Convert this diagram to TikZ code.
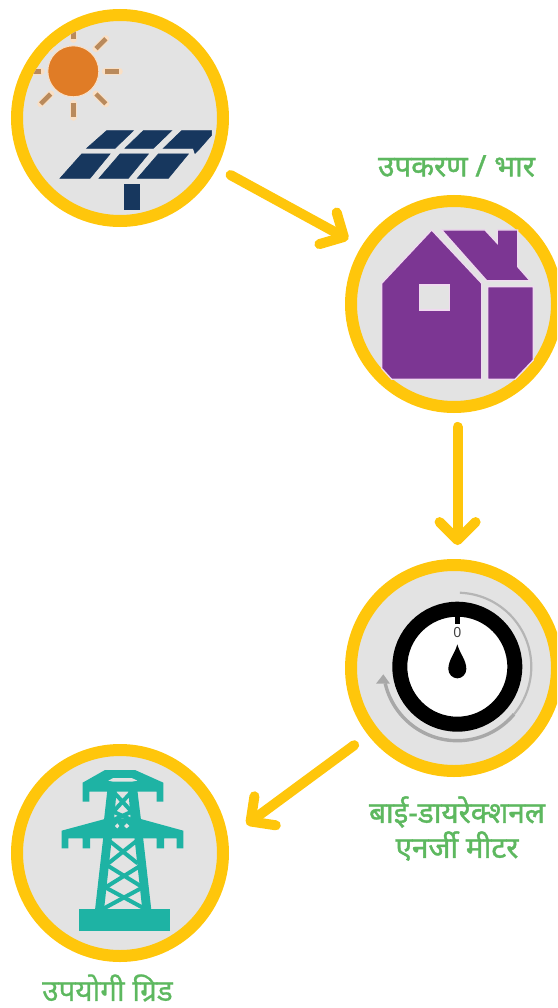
\documentclass[tikz,border=0pt]{standalone}
\usepackage{fontspec}
\newfontfamily\hindi[Script=Devanagari,FakeBold=1.3]{Noto Sans}
\newfontfamily\hindilight[Script=Devanagari,FakeBold=0.6]{Noto Sans}
\newfontfamily\zerofont{Noto Sans}
\usetikzlibrary{arrows.meta}
\definecolor{ringc}{HTML}{FFC60B}
\definecolor{discc}{HTML}{E3E3E3}
\definecolor{labelc}{HTML}{5DB85F}
\definecolor{sunc}{HTML}{E07C26}
\definecolor{rayc}{HTML}{B98A5C}
\definecolor{halo}{HTML}{FADFC4}
\definecolor{panelc}{HTML}{17375E}
\definecolor{housec}{HTML}{7C3693}
\definecolor{houseln}{HTML}{F0D9F0}
\definecolor{towerc}{HTML}{1EB3A4}
\definecolor{arcc}{HTML}{A8A8A8}
\tikzset{
  disc/.style={circle,draw=ringc,fill=discc,line width=12pt,minimum size=206pt,inner sep=0pt,outer sep=0pt},
  flow/.style={draw=ringc,line width=10pt,line cap=round,-{Straight Barb[round,length=18pt,width=36pt]}},
  lbl/.style={text=labelc,font=\hindi\fontsize{29.7}{35}\selectfont,align=center,inner sep=0pt},
  zoomed/.style={x=0.33333pt,y=-0.33333pt},
  lattice/.style={draw=towerc,line width=4pt},
  panel/.style={fill=panelc,draw=panelc,line width=0.6pt},
  hshape/.style={fill=housec,draw=houseln,line width=1.3pt,line join=miter}
}
\begin{document}
\begin{tikzpicture}[x=1pt,y=-1pt]
\useasboundingbox (0,0) rectangle (557,1008);
\clip (0,0) rectangle (557,1008);
% discs
\node[disc] (solar) at (120,118) {};
\node[disc] (house) at (454,304) {};
\node[disc] (meter) at (454,668) {};
\node[disc] (grid)  at (120,853) {};
% connectors
\draw[flow,shorten <=21.4pt,shorten >=21pt] (solar.-27.7) -- (house.148.1);
\draw[flow,shorten <=20pt,shorten >=20pt] (house.-88.3) -- (meter.88.3);
\draw[flow,shorten <=23.2pt,shorten >=30pt] (meter.218) -- (grid.6.9);
% labels
\node[lbl] (lblhouse) at (456.5,166) {उपकरण / भार};
\node[lbl] (lblmeter) at (457,828.5) {बाई-डायरेक्शनल\\एनर्जी मीटर};
\node[lbl,font=\hindilight\fontsize{29.7}{35}\selectfont] (lblgrid) at (107.5,988) {उपयोगी ग्रिड};
% sun
\begin{scope}
\clip (120,118) circle[radius=97pt];
\foreach \a in {0,45,...,315}{
  \draw[halo,line width=7pt,line cap=round] ({73.3+32*cos(\a)},{71.3+32*sin(\a)}) -- ({73.3+46*cos(\a)},{71.3+46*sin(\a)});
  \draw[rayc,line width=4.5pt] ({73.3+32*cos(\a)},{71.3+32*sin(\a)}) -- ({73.3+46*cos(\a)},{71.3+46*sin(\a)});
}
\fill[sunc,draw=halo,line width=1pt] (73.3,71.3) circle[radius=25.5pt];
\end{scope}
% solar panel
\begin{scope}[zoomed]
\path[panel] (260,445)--(320,392)--(400,392)--(345,445)--cycle;
\path[panel] (375,445)--(430,392)--(515,392)--(460,445)--cycle;
\path[panel] (490,445)--(545,392)--(635,392)--(635,405)--(600,445)--(585,460)--(580,445)--cycle;
\path[panel] (180,535)--(245,462)--(330,462)--(270,535)--cycle;
\path[panel] (297,535)--(360,462)--(445,462)--(385,535)--cycle;
\path[panel] (412,535)--(475,462)--(565,462)--(505,535)--cycle;
\path[panel] (373,552) rectangle (418,628);
\end{scope}
% house
\begin{scope}[shift={(340,150)},zoomed]
\path[hshape] (125,400)--(275,240)--(425,400)--(425,688)--(155,688)--(125,655)--cycle;
\path[hshape] (305,240)--(435,240)--(472,280)--(472,240)--(533,240)--(533,350)--(570,392)--(440,392)--cycle;
\path[hshape] (443,410)--(580,410)--(580,630)--(525,688)--(443,688)--cycle;
\path[fill=discc,draw=houseln,line width=1.3pt] (238,405) rectangle (328,480);
\end{scope}
% meter
\draw[arcc!85,line width=2.2pt] plot[domain=-88:40,samples=50] ({457.3+74*cos(\x)},{666.7+74*sin(\x)});
\draw[arcc,line width=3.4pt] plot[domain=40:167,samples=50] ({457.3+74*cos(\x)},{666.7+74*sin(\x)});
\begin{scope}[shift={(340,555)},zoomed]
\fill[arcc] (108,386)--(130,358)--(150,386)--cycle;
\end{scope}
\fill[white] (457.3,666.7) circle[radius=52pt];
\draw[black,line width=15pt] (457.3,666.7) circle[radius=57.5pt];
\begin{scope}[shift={(340,555)},zoomed]
\fill[black] (345,180) rectangle (359,208);
\fill[black] (352,268) .. controls (345,295) and (325,315) .. (325,342) .. controls (325,358) and (338,370) .. (352,370) .. controls (366,370) and (379,358) .. (379,342) .. controls (379,315) and (359,295) .. (352,268) -- cycle;
\end{scope}
\node[font=\zerofont\fontsize{14}{14}\selectfont,text=black!75,inner sep=0pt] (zero) at (457.3,632.7) {0};
% tower
\begin{scope}[shift={(0,740)},zoomed]
\fill[towerc] (238,508) rectangle (510,572);
% arms
\fill[towerc] (248,128)--(315,90)--(405,90)--(490,128)--(490,185)--(470,185)--(470,155)--(268,155)--(268,185)--(248,185)--cycle;
\fill[discc] (325,122)--(340,114)--(395,114)--(412,122)--(395,125)--(340,125)--cycle;
\fill[towerc] (185,272)--(322,235)--(415,235)--(550,272)--(550,325)--(530,325)--(530,295)--(492,295)--(492,325)--(470,325)--(470,295)--(270,295)--(270,325)--(248,325)--(248,295)--(205,295)--(205,325)--(185,325)--cycle;
% upper body
\fill[towerc] (322,150)--(350,150)--(342,240)--(312,240)--cycle;
\fill[towerc] (385,150)--(412,150)--(423,240)--(392,240)--cycle;
\draw[lattice] (340,155)--(395,215)--(340,240);
\draw[lattice] (395,155)--(340,215)--(395,240);
\fill[discc] (345,258)--(352,250)--(358,258)--(352,265)--cycle;
\fill[discc] (372,258)--(380,250)--(388,258)--(380,265)--cycle;
% legs
\fill[towerc] (310,290)--(336,290)--(312,510)--(285,510)--cycle;
\fill[towerc] (403,290)--(429,290)--(454,510)--(427,510)--cycle;
\draw[lattice] (325,300)--(413,370);
\draw[lattice] (413,300)--(325,370);
\draw[lattice] (320,375)--(425,440);
\draw[lattice] (425,375)--(320,440);
\draw[lattice] (312,440)--(432,505);
\draw[lattice] (432,440)--(312,505);
\end{scope}
\end{tikzpicture}
\end{document}
